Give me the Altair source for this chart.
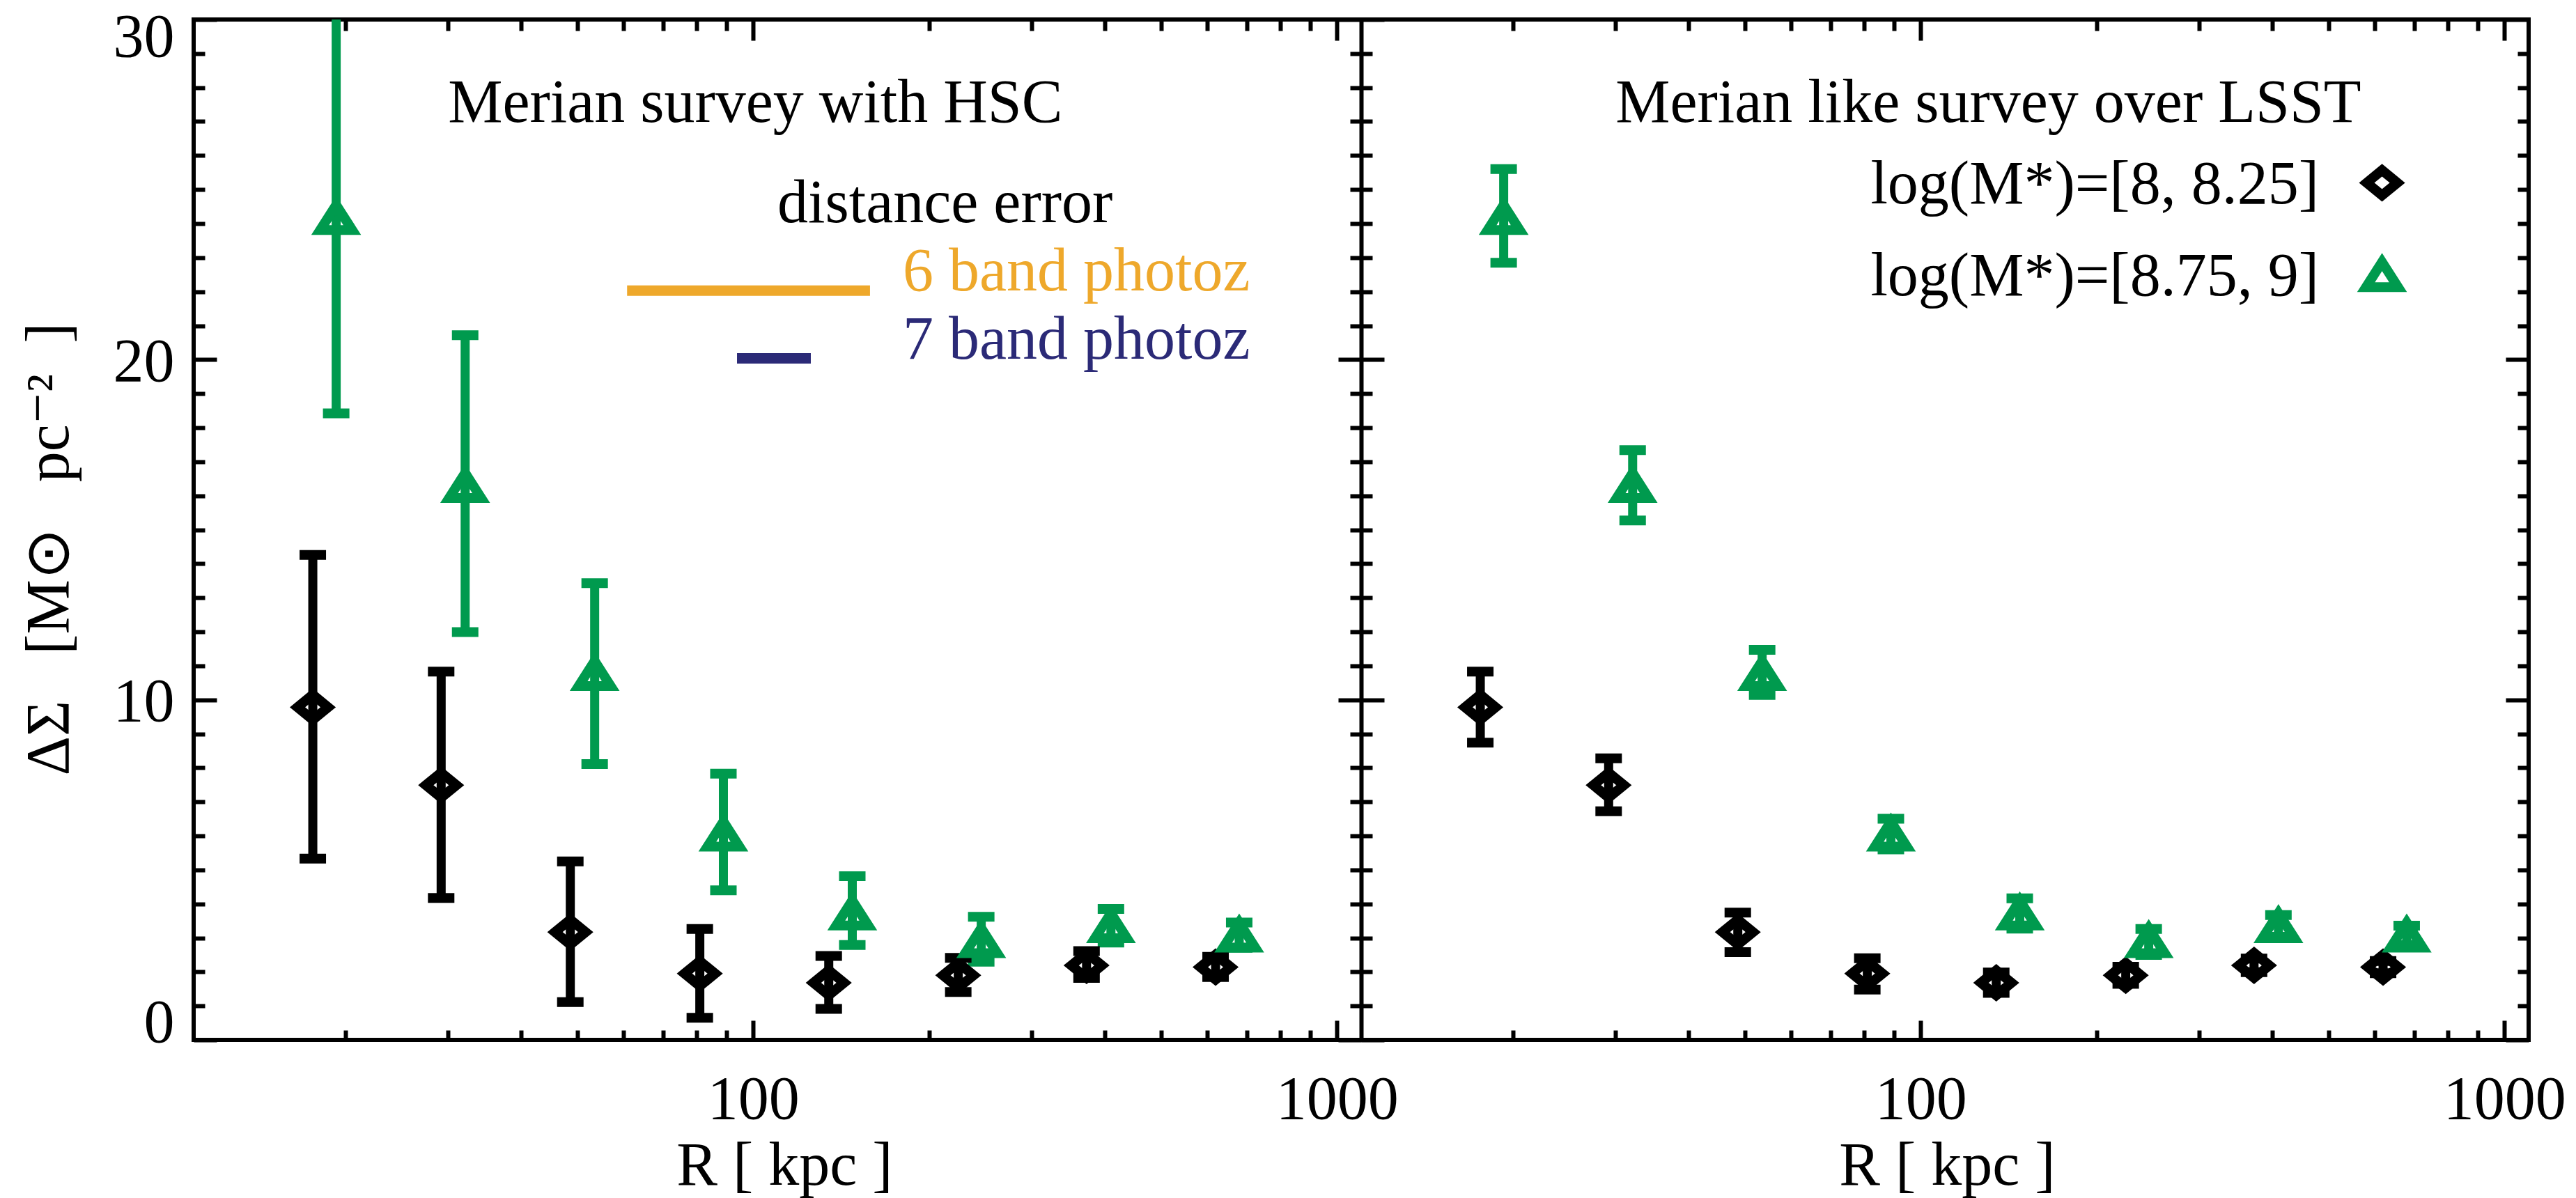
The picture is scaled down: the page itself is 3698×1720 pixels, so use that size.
import altair as alt
import pandas as pd

# ---------------- data ----------------
R_BLACK = [17.6, 29.2, 48.6, 81.0, 134.7, 224.5, 372.4, 619.5]
R_GREEN = [19.3, 32.1, 53.5, 88.9, 147.8, 245.8, 410.0, 680.0]
Y_BLACK = [9.78, 7.49, 3.17, 1.95, 1.68, 1.90, 2.19, 2.14]
Y_GREEN = [24.18, 16.30, 10.77, 6.05, 3.73, 2.92, 3.36, 3.08]

# Merian survey with HSC (left panel) error ranges
HSC_BLACK_LO = [5.33, 4.17, 1.11, 0.65, 0.91, 1.41, 1.82, 1.85]
HSC_BLACK_HI = [14.26, 10.83, 5.25, 3.26, 2.47, 2.41, 2.61, 2.44]
HSC_GREEN_LO = [18.42, 11.99, 8.11, 4.40, 2.79, 2.30, 2.86, 2.71]
HSC_GREEN_HI = [31.00, 20.72, 13.43, 7.83, 4.81, 3.62, 3.85, 3.45]

# Merian like survey over LSST (right panel) error ranges
LSST_BLACK_LO = [8.74, 6.72, 2.58, 1.48, 1.38, 1.65, 1.99, 1.96]
LSST_BLACK_HI = [10.83, 8.28, 3.74, 2.40, 1.98, 2.15, 2.39, 2.32]
LSST_GREEN_LO = [22.85, 15.27, 10.14, 5.60, 3.27, 2.50, 3.03, 2.79]
LSST_GREEN_HI = [25.60, 17.34, 11.47, 6.50, 4.16, 3.26, 3.67, 3.36]

SERIES = ["black", "green"]
LEGEND_LABELS = ["log(M*)=[8, 8.25]", "log(M*)=[8.75, 9]"]
LEGEND_X_TEXT = [481, 481]
LEGEND_Y_TEXT = [24.6, 21.9]
LEGEND_X_SYM = [617, 617]
LEGEND_Y_SYM = [25.2, 22.5]

DIST_LABELS = ["distance error", "6 band photoz", "7 band photoz"]
DIST_X = [110, 180.4, 180.4]
DIST_Y = [24.04, 22.03, 20.03]
DIST_LINE_X1 = [60.8, 93.8]
DIST_LINE_X2 = [158.5, 125.5]
DIST_LINE_Y = [22.03, 20.04]

PANEL_TITLES = ["Merian survey with HSC", "Merian like survey over LSST"]
PANEL_TITLE_X = 30
PANEL_TITLE_Y = 27.0

NB = "\u00a0"
Y_TITLE = "ΔΣ" + NB * 3 + "[M⊙" + NB * 3 + "pc⁻²" + NB * 2 + "]"
X_TITLE = "R [ kpc ]"

X_MAJOR = [100, 1000]
X_MINOR = [20, 30, 40, 50, 60, 70, 80, 90, 200, 300, 400, 500, 600, 700, 800, 900]
Y_MAJOR = [0, 10, 20, 30]
Y_MINOR = [v for v in range(0, 31) if v % 10 != 0]

# ---------------- styling ----------------
FONT = "Liberation Serif"
FS = 88
GREEN = "#009A4E"
ORANGE = "#EEA82B"
NAVY = "#2B2A77"
PW, PH = 1676, 1465
W = 2 * PW
SYM_STROKE = 14

DIAMOND = "M-1,0L0,-0.818L1,0L0,0.818Z"
TRIANGLE = "M0,-0.783L1,0.783L-1,0.783Z"

xs_left = alt.Scale(type="log", domain=[11, 1100], range=[0, PW], nice=False)
xs_right = alt.Scale(type="log", domain=[11, 1100], range=[PW, W], nice=False)
ys = alt.Scale(domain=[0, 30], nice=False, zero=False)
color_scale = alt.Scale(domain=SERIES, range=["#000000", GREEN])
shape_scale = alt.Scale(domain=SERIES, range=[DIAMOND, TRIANGLE])
size_scale = alt.Scale(domain=SERIES, range=[1936, 2116])


def frame(lo_b, hi_b, lo_g, hi_g):
    rows = []
    for r, y, lo, hi in zip(R_BLACK, Y_BLACK, lo_b, hi_b):
        rows.append(dict(R=r, y=y, lo=lo, hi=hi, s="black"))
    for r, y, lo, hi in zip(R_GREEN, Y_GREEN, lo_g, hi_g):
        rows.append(dict(R=r, y=y, lo=lo, hi=hi, s="green"))
    return pd.DataFrame(rows)


def tick_axis(orient, values, length, offset=None, domain=False):
    return alt.Axis(orient=orient, values=values, ticks=True, tickSize=length,
                    tickWidth=6, tickColor="black",
                    offset=(-length if offset is None else offset), labels=False,
                    domain=domain, domainWidth=6, domainColor="black",
                    grid=False, title=None)


def xlab_axis(title_x):
    return alt.Axis(orient="bottom", values=X_MAJOR, format="d", ticks=False, tickSize=0,
                    domain=False, grid=False, labelFont=FONT, labelFontSize=FS,
                    labelColor="black", labelPadding=112, labelBaseline="alphabetic",
                    labelAlign="center", labelFlush=False, labelOverlap=False,
                    title=X_TITLE, titleFont=FONT, titleFontSize=FS,
                    titleFontWeight="normal", titleColor="black",
                    titleX=title_x, titleY=207, titleBaseline="alphabetic",
                    titleAlign="center")


def ylab_axis(values, label_offset, with_title=False):
    kw = dict(orient="left", values=values, format="d", ticks=False, tickSize=0,
              domain=False, grid=False, labelFont=FONT, labelFontSize=FS,
              labelColor="black", labelPadding=28, labelBaseline="alphabetic",
              labelAlign="right", labelOffset=label_offset, labelFlush=False,
              labelOverlap=False)
    if with_title:
        kw.update(title=Y_TITLE, titleFont=FONT, titleFontSize=FS,
                  titleFontWeight="normal", titleColor="black", titleX=-181,
                  titleY=760, titleAngle=270, titleBaseline="alphabetic",
                  titleAlign="center")
    else:
        kw["title"] = None
    return alt.Axis(**kw)


def carrier(df, xscale, xaxis, yaxis):
    return alt.Chart(df).mark_point(opacity=0).encode(
        x=alt.X("R:Q", scale=xscale, axis=xaxis),
        y=alt.Y("y:Q", scale=ys, axis=yaxis),
    )


def data_layers(df, xscale):
    base = alt.Chart(df)
    out = [base.mark_rule(strokeWidth=13, clip=True).encode(
        x=alt.X("R:Q", scale=xscale, axis=None),
        y=alt.Y("lo:Q", scale=ys, axis=None), y2="hi:Q",
        color=alt.Color("s:N", scale=color_scale, legend=None))]
    for f in ["lo", "hi"]:
        out.append(base.mark_tick(orient="horizontal", thickness=14, size=38,
                                  opacity=1, clip=True).encode(
            x=alt.X("R:Q", scale=xscale, axis=None),
            y=alt.Y(f + ":Q", scale=ys, axis=None),
            color=alt.Color("s:N", scale=color_scale, legend=None)))
    out.append(base.mark_point(filled=False, strokeWidth=SYM_STROKE, opacity=1,
                               clip=True).encode(
        x=alt.X("R:Q", scale=xscale, axis=None),
        y=alt.Y("y:Q", scale=ys, axis=None),
        color=alt.Color("s:N", scale=color_scale, legend=None),
        shape=alt.Shape("s:N", scale=shape_scale, legend=None),
        size=alt.Size("s:N", scale=size_scale, legend=None)))
    return out


def text_layer(df, xscale, align, color=None):
    enc = dict(x=alt.X("R:Q", scale=xscale, axis=None),
               y=alt.Y("y:Q", scale=ys, axis=None), text="t:N")
    if color is None:
        enc["color"] = alt.Color("c:N", scale=None)
    mk = alt.Chart(df).mark_text(font=FONT, fontSize=FS, align=align,
                                 baseline="alphabetic", fontWeight="normal",
                                 **({} if color is None else {"color": color}))
    return mk.encode(**enc)


left_df = frame(HSC_BLACK_LO, HSC_BLACK_HI, HSC_GREEN_LO, HSC_GREEN_HI)
right_df = frame(LSST_BLACK_LO, LSST_BLACK_HI, LSST_GREEN_LO, LSST_GREEN_HI)

layers = []
# ---- axes of the left panel ----
layers.append(carrier(left_df, xs_left, xlab_axis(848), ylab_axis([10, 20], 30, True)))
layers.append(carrier(left_df, xs_left, tick_axis("bottom", X_MAJOR, 28),
                      tick_axis("left", Y_MAJOR, 33)))
layers.append(carrier(left_df, xs_left, tick_axis("bottom", X_MINOR, 14),
                      tick_axis("left", Y_MINOR, 16)))
layers.append(carrier(left_df, xs_left, tick_axis("top", X_MAJOR, 30),
                      tick_axis("left", Y_MAJOR, 33, offset=-PW, domain=True)))
layers.append(carrier(left_df, xs_left, tick_axis("top", X_MINOR, 16),
                      tick_axis("left", Y_MINOR, 16, offset=-PW)))
layers.append(carrier(left_df, xs_left, None, ylab_axis([0], 2)))
layers.append(carrier(left_df, xs_left, None, ylab_axis([30], 52)))
# ---- axes of the right panel ----
layers.append(carrier(right_df, xs_right, xlab_axis(2517),
                      tick_axis("right", Y_MAJOR, 33)))
layers.append(carrier(right_df, xs_right, tick_axis("bottom", X_MAJOR, 28),
                      tick_axis("right", Y_MINOR, 16)))
layers.append(carrier(right_df, xs_right, tick_axis("bottom", X_MINOR, 14),
                      tick_axis("right", Y_MAJOR, 33, offset=-PW)))
layers.append(carrier(right_df, xs_right, tick_axis("top", X_MAJOR, 30),
                      tick_axis("right", Y_MINOR, 16, offset=-PW)))
layers.append(carrier(right_df, xs_right, tick_axis("top", X_MINOR, 16), None))

# ---- data ----
layers += data_layers(left_df, xs_left)
layers += data_layers(right_df, xs_right)

# ---- annotations, left ----
layers.append(text_layer(pd.DataFrame({"R": [PANEL_TITLE_X], "y": [PANEL_TITLE_Y],
                                       "t": [PANEL_TITLES[0]]}), xs_left, "left", "black"))
layers.append(text_layer(pd.DataFrame({"R": DIST_X, "y": DIST_Y, "t": DIST_LABELS,
                                       "c": ["black", ORANGE, NAVY]}), xs_left, "left"))
layers.append(alt.Chart(pd.DataFrame({"x1": DIST_LINE_X1, "x2": DIST_LINE_X2,
                                      "y": DIST_LINE_Y, "c": [ORANGE, NAVY]}))
              .mark_rule(strokeWidth=15).encode(
                  x=alt.X("x1:Q", scale=xs_left, axis=None), x2="x2:Q",
                  y=alt.Y("y:Q", scale=ys, axis=None),
                  color=alt.Color("c:N", scale=None)))

# ---- annotations, right ----
layers.append(text_layer(pd.DataFrame({"R": [PANEL_TITLE_X], "y": [PANEL_TITLE_Y],
                                       "t": [PANEL_TITLES[1]]}), xs_right, "left", "black"))
layers.append(text_layer(pd.DataFrame({"R": LEGEND_X_TEXT, "y": LEGEND_Y_TEXT,
                                       "t": LEGEND_LABELS}), xs_right, "right", "black"))
layers.append(alt.Chart(pd.DataFrame({"R": LEGEND_X_SYM, "y": LEGEND_Y_SYM, "s": SERIES}))
              .mark_point(filled=False, strokeWidth=SYM_STROKE, opacity=1).encode(
                  x=alt.X("R:Q", scale=xs_right, axis=None),
                  y=alt.Y("y:Q", scale=ys, axis=None),
                  color=alt.Color("s:N", scale=color_scale, legend=None),
                  shape=alt.Shape("s:N", scale=shape_scale, legend=None),
                  size=alt.Size("s:N", scale=size_scale, legend=None)))

chart = alt.layer(*layers).resolve_scale(x="independent").resolve_axis(
    x="independent", y="independent"
).properties(
    width=W, height=PH,
    autosize=alt.AutoSizeParams(type="none"),
    padding={"left": 278, "top": 28, "right": 68, "bottom": 227},
    background="white",
).configure_view(
    stroke="black", strokeWidth=6
)

chart.save("out.html", embed_options={"renderer": "svg", "actions": False})
